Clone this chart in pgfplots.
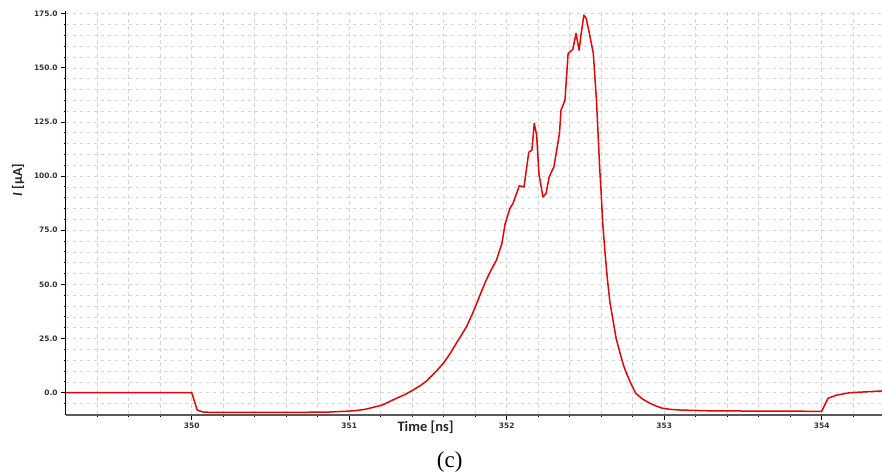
\documentclass[border=0pt]{standalone}
\usepackage{fontspec}
\setmainfont{Carlito}
\newfontfamily\tickfont{DejaVu Sans}
\newfontfamily\capfont{Liberation Serif}
\usepackage{pgfplots}
\pgfplotsset{compat=1.18}
\definecolor{curve}{RGB}{226,6,6}

\begin{document}
\begin{tikzpicture}
\begin{axis}[
    at={(65.7bp,60bp)}, anchor=south west,
    scale only axis, width=816.3bp, height=403.5bp,
    xmin=349.2, xmax=354.383, ymin=-10.3, ymax=176,
    axis lines*=left,
    x axis line style={draw=black!65, line width=1.8bp},
    y axis line style={draw=black, line width=1.1bp},
    xtick={350,351,352,353,354},
    minor xtick={349.4,349.6,349.8,350.2,350.4,350.6,350.8,351.2,351.4,351.6,351.8,352.2,352.4,352.6,352.8,353.2,353.4,353.6,353.8,354.2},
    ytick={0,25,...,175},
    minor ytick={-5,5,10,15,20,30,35,40,45,55,60,65,70,80,85,90,95,105,110,115,120,130,135,140,145,155,160,165,170},
    grid=both,
    grid style={draw=gray!32, line width=0.6bp, dash pattern=on 3.5bp off 3.5bp},
    major grid style={draw=gray!32, line width=0.6bp, dash pattern=on 3.5bp off 3.5bp},
    tick align=outside,
    major tick length=4.5bp, minor tick length=2.2bp,
    tick style={black, line width=0.9bp},
    tick label style={font=\tickfont\bfseries\fontsize{7.5}{8}\selectfont, text=black!80},
    /pgf/number format/assume math mode=true,
    yticklabel style={/pgf/number format/.cd, fixed, fixed zerofill, precision=1},
    xticklabel style={/pgf/number format/.cd, fixed, precision=0},
    xlabel={Time [ns]},
    xlabel style={font=\bfseries\fontsize{14.5}{16}\selectfont, text=black!85,
        at={(axis description cs:0.4408,-0.0315)}, anchor=center},
    ylabel={{\itshape I} [µA]},
    ylabel style={font=\bfseries\fontsize{14}{16}\selectfont, text=black!85,
        at={(axis description cs:-0.0584,0.5824)}, anchor=center},
]
\addplot[color=curve, line width=1.5bp, line join=round] coordinates {
(349.2,0) (350.0,0) (350.035,-8) (350.07,-8.9) (350.12,-9.1) (350.5,-9.1)
(350.85,-9.0) (351.0,-8.5) (351.05,-8.2) (351.1,-7.7) (351.15,-6.8)
(351.21,-5.7) (351.25,-4.3) (351.3,-2.6) (351.35,-1.0) (351.40,1.0)
(351.45,3.2) (351.49,5.3) (351.52,7.5) (351.56,10.5) (351.60,13.8)
(351.64,18) (351.68,22.8) (351.71,26.3) (351.745,30.5) (351.78,36)
(351.81,41.3) (351.84,46.8) (351.87,52) (351.90,56.5) (351.935,61.2)
(351.97,69) (351.99,78)
(352.02,85) (352.04,87.4) (352.08,95.5) (352.11,95) (352.14,111)
(352.16,112) (352.175,124.3) (352.19,119) (352.205,101) (352.23,90.4)
(352.25,92) (352.27,99.7) (352.30,104.3) (352.335,119.7) (352.345,130.5)
(352.37,135) (352.39,156.6) (352.42,158.5) (352.44,165.9) (352.46,158.1)
(352.47,164.3) (352.49,174.3) (352.505,172.8) (352.525,165.9) (352.55,156.6)
(352.57,135) (352.59,104.3) (352.60,92) (352.61,78) (352.625,64)
(352.64,52) (352.655,42) (352.675,33.5) (352.695,25) (352.72,18.2)
(352.74,13) (352.76,9) (352.79,4) (352.82,-0.3) (352.86,-2.8)
(352.91,-4.9) (352.95,-6.2) (352.99,-7.2) (353.04,-7.7)
(353.1,-8.0) (353.3,-8.4) (354.0,-8.6) (354.04,-2.6) (354.095,-1.1)
(354.18,0) (354.31,0.5) (354.383,0.8)
};
\end{axis}
\node[font=\capfont\fontsize{23}{24}\selectfont] at (449.7bp,13.3bp) {(c)};
\pgfresetboundingbox
\path[use as bounding box] (0,0) rectangle (882bp,475bp);
\end{tikzpicture}
\end{document}
